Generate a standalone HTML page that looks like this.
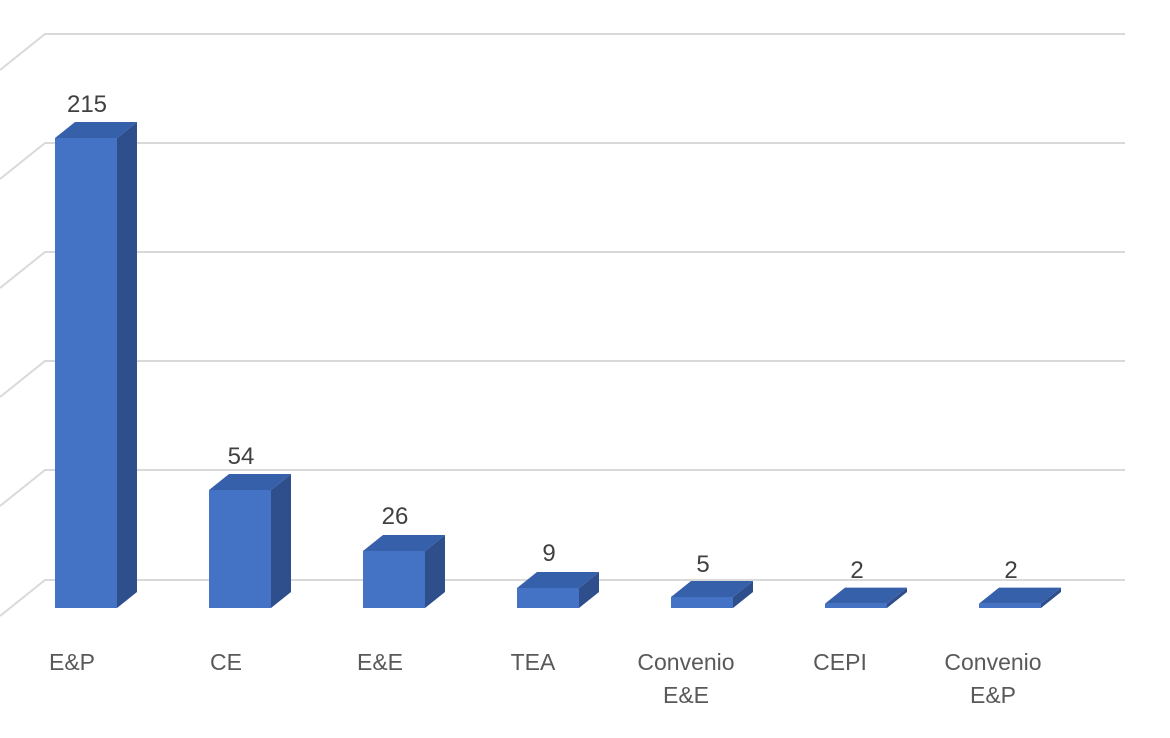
<!DOCTYPE html>
<html><head><meta charset="utf-8"><style>
html,body{margin:0;padding:0;background:#fff;}
svg{display:block;}
text{font-family:"Liberation Sans",sans-serif;}
</style></head><body>
<svg width="1170" height="738" viewBox="0 0 1170 738" xmlns="http://www.w3.org/2000/svg">
<g stroke="#d9d9d9" stroke-width="2" fill="none">
<polyline points="0,70 45,34 1125,34"/>
<polyline points="0,179 45,143 1125,143"/>
<polyline points="0,288 45,252 1125,252"/>
<polyline points="0,397 45,361 1125,361"/>
<polyline points="0,506 45,470 1125,470"/>
<polyline points="0,616 45,580 1125,580"/>
</g>
<g>
<polygon fill="#2E4F8C" points="117,138 137,122 137,592 117,608"/>
<polygon fill="#3760AA" points="55,138 75,122 137,122 117,138"/>
<rect fill="#4472C4" x="55" y="138" width="62" height="470"/>

<polygon fill="#2E4F8C" points="271,490 291,474 291,592 271,608"/>
<polygon fill="#3760AA" points="209,490 229,474 291,474 271,490"/>
<rect fill="#4472C4" x="209" y="490" width="62" height="118"/>

<polygon fill="#2E4F8C" points="425,551 445,535 445,592 425,608"/>
<polygon fill="#3760AA" points="363,551 383,535 445,535 425,551"/>
<rect fill="#4472C4" x="363" y="551" width="62" height="57"/>

<polygon fill="#2E4F8C" points="579,588 599,572 599,592 579,608"/>
<polygon fill="#3760AA" points="517,588 537,572 599,572 579,588"/>
<rect fill="#4472C4" x="517" y="588" width="62" height="20"/>

<polygon fill="#2E4F8C" points="733,597 753,581 753,592 733,608"/>
<polygon fill="#3760AA" points="671,597 691,581 753,581 733,597"/>
<rect fill="#4472C4" x="671" y="597" width="62" height="11"/>

<polygon fill="#2E4F8C" points="887,603.6 907,587.6 907,592 887,608"/>
<polygon fill="#3760AA" points="825,603.6 845,587.6 907,587.6 887,603.6"/>
<rect fill="#4472C4" x="825" y="603.6" width="62" height="4.4"/>

<polygon fill="#2E4F8C" points="1041,603.6 1061,587.6 1061,592 1041,608"/>
<polygon fill="#3760AA" points="979,603.6 999,587.6 1061,587.6 1041,603.6"/>
<rect fill="#4472C4" x="979" y="603.6" width="62" height="4.4"/>
</g>
<g font-size="24" text-anchor="middle" fill="#404040">
<text x="87" y="112">215</text>
<text x="241" y="464">54</text>
<text x="395" y="524">26</text>
<text x="549" y="561">9</text>
<text x="703" y="572">5</text>
<text x="857" y="578">2</text>
<text x="1011" y="578">2</text>
</g>
<g font-size="23" text-anchor="middle" fill="#595959">
<text x="72" y="670">E&amp;P</text>
<text x="226" y="670">CE</text>
<text x="380" y="670">E&amp;E</text>
<text x="533" y="670">TEA</text>
<text x="686" y="670">Convenio</text>
<text x="686" y="703">E&amp;E</text>
<text x="840" y="670">CEPI</text>
<text x="993" y="670">Convenio</text>
<text x="993" y="703">E&amp;P</text>
</g>
</svg>
</body></html>
